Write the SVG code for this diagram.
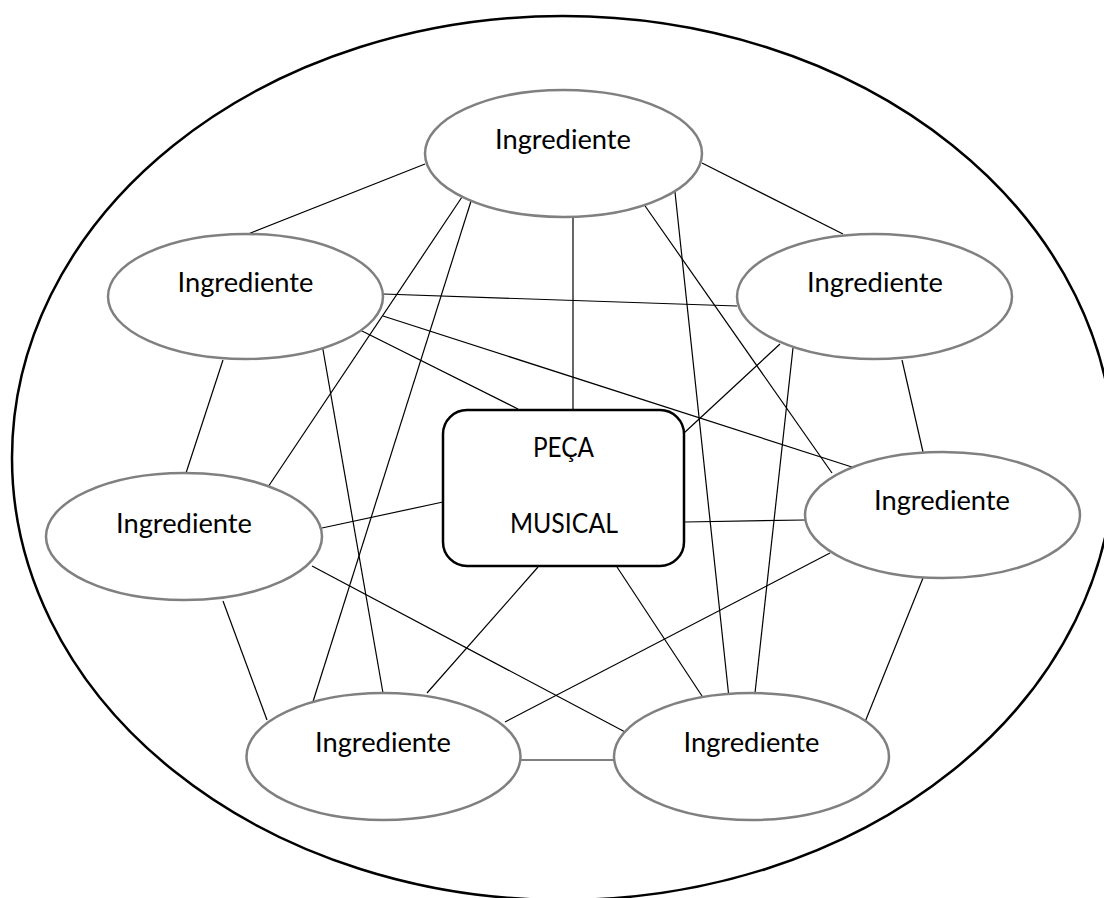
<svg xmlns="http://www.w3.org/2000/svg" width="1104" height="898" viewBox="0 0 1104 898">
  <style>
    .frame { fill: none; stroke: #000; stroke-width: 2.5; }
    .ing { fill: #fff; stroke: #808080; stroke-width: 2.5; }
    .core { fill: #fff; stroke: #000; stroke-width: 2.5; }
    .lbl { font-family: Lato, "Liberation Sans", Arial, sans-serif; font-size: 27px; fill: #000; text-anchor: middle; }
    #links line { stroke: #000; stroke-width: 1.2; }
  </style>
  <rect width="1104" height="898" fill="#fff"/>

  <!-- enclosing boundary -->
  <ellipse id="boundary" class="frame" cx="563" cy="458" rx="551" ry="442"/>

  <!-- connectors -->
  <g id="links">
    <line x1="248" y1="234" x2="425" y2="164"/>
    <line x1="702" y1="163" x2="843" y2="234"/>
    <line x1="573" y1="217" x2="573" y2="410"/>
    <line x1="462" y1="197" x2="268" y2="487"/>
    <line x1="472" y1="198" x2="311" y2="708"/>
    <line x1="643" y1="203" x2="832" y2="473"/>
    <line x1="675" y1="192" x2="729" y2="698"/>
    <line x1="383" y1="294" x2="737" y2="306"/>
    <line x1="383" y1="316" x2="855" y2="468"/>
    <line x1="360" y1="330" x2="518" y2="409"/>
    <line x1="223" y1="360" x2="186" y2="473"/>
    <line x1="322" y1="344" x2="383" y2="693"/>
    <line x1="780" y1="344" x2="684" y2="433"/>
    <line x1="793" y1="348" x2="755" y2="693"/>
    <line x1="902" y1="360" x2="923" y2="452"/>
    <line x1="685" y1="522" x2="805" y2="520"/>
    <line x1="830" y1="553" x2="505" y2="722"/>
    <line x1="923" y1="578" x2="865" y2="722"/>
    <line x1="322" y1="528" x2="443" y2="502"/>
    <line x1="223" y1="601" x2="267" y2="720"/>
    <line x1="312" y1="566" x2="627" y2="733"/>
    <line x1="538" y1="567" x2="427" y2="693"/>
    <line x1="617" y1="567" x2="702" y2="696"/>
    <line x1="521" y1="760" x2="614" y2="760"/>
  </g>

  <!-- central node -->
  <g id="peca-musical">
    <rect class="core" x="443" y="410" width="241" height="156" rx="24" ry="24"/>
    <text class="lbl" x="563.5" y="457" textLength="61" lengthAdjust="spacingAndGlyphs">PEÇA</text>
    <text class="lbl" x="564" y="533" textLength="108" lengthAdjust="spacingAndGlyphs">MUSICAL</text>
  </g>

  <!-- ingredient nodes -->
  <g id="ing-top">
    <ellipse class="ing" cx="563.5" cy="153.5" rx="138.5" ry="63.5"/>
    <text class="lbl" x="563" y="149" textLength="136" lengthAdjust="spacingAndGlyphs">Ingrediente</text>
  </g>
  <g id="ing-upper-left">
    <ellipse class="ing" cx="245.5" cy="296.5" rx="137.5" ry="62.5"/>
    <text class="lbl" x="245.5" y="292" textLength="136" lengthAdjust="spacingAndGlyphs">Ingrediente</text>
  </g>
  <g id="ing-upper-right">
    <ellipse class="ing" cx="874.5" cy="296.5" rx="137.5" ry="62.5"/>
    <text class="lbl" x="875" y="292" textLength="136" lengthAdjust="spacingAndGlyphs">Ingrediente</text>
  </g>
  <g id="ing-mid-left">
    <ellipse class="ing" cx="184" cy="536.5" rx="138" ry="63.5"/>
    <text class="lbl" x="184" y="533" textLength="136" lengthAdjust="spacingAndGlyphs">Ingrediente</text>
  </g>
  <g id="ing-mid-right">
    <ellipse class="ing" cx="942.5" cy="515" rx="137.5" ry="63"/>
    <text class="lbl" x="942" y="510" textLength="136" lengthAdjust="spacingAndGlyphs">Ingrediente</text>
  </g>
  <g id="ing-bottom-left">
    <ellipse class="ing" cx="383.5" cy="756.5" rx="137" ry="63.5"/>
    <text class="lbl" x="383" y="752" textLength="136" lengthAdjust="spacingAndGlyphs">Ingrediente</text>
  </g>
  <g id="ing-bottom-right">
    <ellipse class="ing" cx="751.5" cy="756.5" rx="137.5" ry="63.5"/>
    <text class="lbl" x="751.5" y="752" textLength="136" lengthAdjust="spacingAndGlyphs">Ingrediente</text>
  </g>
</svg>
